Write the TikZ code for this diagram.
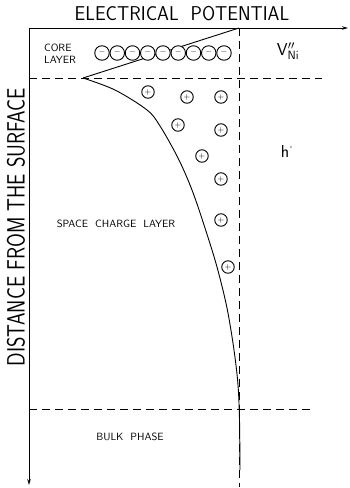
\documentclass[tikz,border=0pt]{standalone}
\usepackage{graphicx}
\usetikzlibrary{arrows.meta,positioning}
\tikzset{
  axis/.style={line width=0.9pt,-{Stealth[length=6pt,width=3.5pt]}},
  divider/.style={dash pattern=on 8pt off 5pt,line width=0.8pt},
  profile/.style={line width=0.9pt},
  negcharge/.style={circle,draw,fill=white,line width=0.9pt,minimum size=14.5pt,
    inner sep=0pt,font=\footnotesize\bfseries},
  poscharge/.style={circle,draw,fill=white,line width=0.9pt,minimum size=12.5pt,
    inner sep=0pt,font=\footnotesize},
  lbl/.style={font=\fontsize{10.5}{12}\selectfont\sffamily,align=left}
}

\begin{document}
\begin{tikzpicture}[x=1pt,y=-1pt]
  \useasboundingbox (0,0) rectangle (349,488);
  % axes
  \coordinate (o) at (29,28);
  \coordinate (xend) at (348,28);
  \coordinate (yend) at (29,485);
  \draw[axis] (o) -- (xend);
  \draw[axis] (o) -- (yend);
  \node[font=\fontsize{20}{22}\selectfont\sffamily] (title) at (182,14)
    {\scalebox{0.95}[1]{ELECTRICAL\ \ POTENTIAL}};
  \node[rotate=90,font=\fontsize{25}{27}\selectfont\sffamily] (ylabel) at (16,227)
    {\scalebox{0.8}[1]{DISTANCE\ FROM\ THE\ SURFACE}};

  % layer boundaries
  \coordinate (c1) at (29,78);   \coordinate (c2) at (322,78);
  \coordinate (b1) at (29,409);  \coordinate (b2) at (313,409);
  \draw[divider] (c1) -- (c2);
  \draw[divider] (b1) -- (b2);
  \coordinate (surf) at (239,28);
  \coordinate (vbot) at (239,487);
  \draw[divider] (surf) -- (vbot);

  % potential profile
  \coordinate (tip) at (83,78);
  \draw[profile] (tip) -- (surf);
  \draw[profile] plot[smooth,tension=0.55] coordinates
    {(83,78) (115,90) (147,110) (160,126) (178,158) (192,190) (205,228)
     (217,267) (227,308) (234,350) (238,385) (239.5,420) (240,470)};

  % charges
  \foreach \i in {0,...,8}
    \node[negcharge] (m\i) at ({102+15.25*\i},53) {--};
  \foreach \px/\py [count=\k] in {148/92,187/97,221/97,178/125,221/130,
      202/156,221/179,221/220,228/267}
    \node[poscharge] (p\k) at (\px,\py) {$\mathbf{+}$};

  % labels
  \node[lbl] (core) at (60,53.5) {CORE\\LAYER};
  \node[lbl] (scl) at (116,224) {SPACE\ \ CHARGE\ \ LAYER};
  \node[lbl] (bulk) at (130,437) {BULK\ \ PHASE};
  \node[font=\fontsize{17}{19}\selectfont] (vni) at (288,51)
    {$\mathsf{V}''_{\mathsf{Ni}}$};
  \node[font=\fontsize{17}{19}\selectfont] (hole) at (287,151)
    {$\mathsf{h}^{\cdot}$};
\end{tikzpicture}
\end{document}
